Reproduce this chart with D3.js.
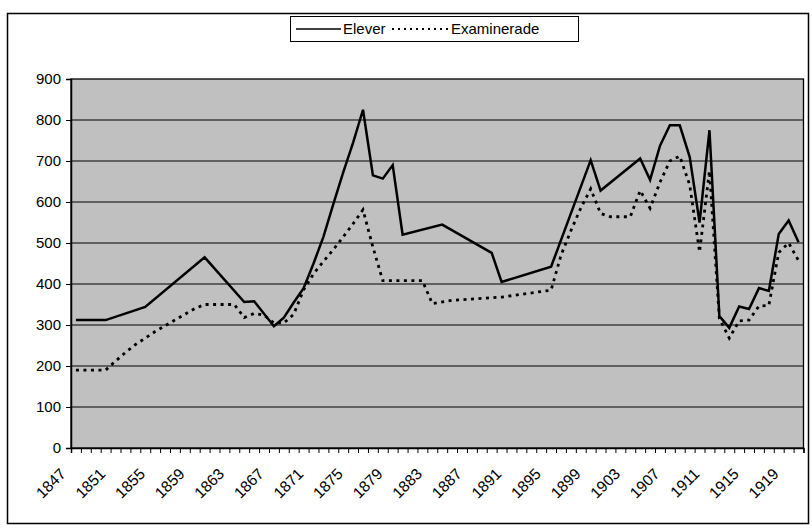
<!DOCTYPE html>
<html><head><meta charset="utf-8">
<script src="https://cdn.jsdelivr.net/npm/d3@7"></script>
<style>
body{margin:0;background:#fff}
svg{display:block}
text{font-family:"Liberation Sans",Arial,sans-serif;fill:#000}
</style>
</head><body>
<svg id="c" width="812" height="531"></svg>
<script>
// ---- data ----
const seriesNames = ["Elever", "Examinerade"];
const yTicks = [0, 100, 200, 300, 400, 500, 600, 700, 800, 900];
const xLabelYears = [1847, 1851, 1855, 1859, 1863, 1867, 1871, 1875, 1879, 1883, 1887, 1891, 1895, 1899, 1903, 1907, 1911, 1915, 1919];
const firstYear = 1847, lastYear = 1920;

const elYears = [1847,1850,1854,1860,1864,1865,1867,1868,1869,1870,1871,1872,1873,1874,1875,1876,1877,1878,1879,1880,1884,1889,1890,1895,1899,1900,1904,1905,1906,1907,1908,1909,1910,1911,1912,1913,1914,1915,1916,1917,1918,1919,1920];
const elValues = [312,312,344,465,356,358,297,318,355,390,450,515,595,672,745,825,665,657,690,520,545,476,405,442,702,628,706,654,737,787,787,710,550,775,322,293,345,339,390,383,522,555,502];

const exYears = [1847,1850,1851,1852,1853,1854,1855,1856,1857,1858,1859,1860,1863,1864,1865,1866,1867,1868,1869,1870,1871,1872,1873,1874,1875,1876,1877,1878,1882,1883,1885,1890,1895,1896,1897,1898,1899,1900,1901,1903,1904,1905,1906,1907,1908,1909,1910,1911,1912,1913,1914,1915,1916,1917,1918,1919,1920];
const exValues = [190,190,212,233,252,268,284,298,312,326,340,350,350,318,328,324,305,305,326,386,425,455,484,515,547,581,490,408,408,352,360,368,385,470,530,585,632,572,564,564,628,585,648,700,712,642,478,676,316,268,310,312,346,348,477,500,457];

// ---- layout ----
const svg = d3.select("#c");
const L = 71, R = 803.5, T = 79, B = 448;
const x = d3.scaleLinear().domain([firstYear - 0.5, lastYear + 0.5]).range([L, R]);
const y = d3.scaleLinear().domain([0, 900]).range([B, T]);

// outer border
svg.append("rect").attr("x", 7.5).attr("y", 13.5).attr("width", 801).attr("height", 510)
  .attr("fill", "#fff").attr("stroke", "#000").attr("stroke-width", 1.5);

// plot background
svg.append("rect").attr("x", L).attr("y", T).attr("width", R - L).attr("height", B - T)
  .attr("fill", "#c0c0c0");

// gridlines
svg.append("g").selectAll("line").data(yTicks.filter(d => d > 0 && d < 900)).join("line")
  .attr("x1", L).attr("x2", R).attr("y1", d => y(d)).attr("y2", d => y(d))
  .attr("stroke", "#000").attr("stroke-width", 1);

// plot border
svg.append("rect").attr("x", L).attr("y", T).attr("width", R - L).attr("height", B - T)
  .attr("fill", "none").attr("stroke", "#000").attr("stroke-width", 1.3);

// y axis
const yAxis = svg.append("g").attr("transform", `translate(${L},0)`)
  .call(d3.axisLeft(y).tickValues(yTicks).tickSize(5).tickPadding(5));
yAxis.select(".domain").attr("stroke", "#000").attr("stroke-width", 1.5);
yAxis.selectAll("text").style("font-size", "15px");

// x axis (tick marks at category boundaries)
const bounds = d3.range(firstYear - 0.5, lastYear + 1, 1);
const xAxis = svg.append("g").attr("transform", `translate(0,${B})`)
  .call(d3.axisBottom(x).tickValues(bounds).tickSize(5).tickFormat(""));
xAxis.select(".domain").attr("stroke", "#000").attr("stroke-width", 1.5);

svg.append("g").selectAll("text").data(xLabelYears).join("text")
  .attr("transform", d => `translate(${x(d) - 13},${B + 23}) rotate(-45)`)
  .attr("text-anchor", "end").attr("dy", "0.35em")
  .style("font-size", "15.5px").text(d => d);

// lines
const line = d3.line().x(d => x(d[0])).y(d => y(d[1]));
const elPts = elYears.map((yr, i) => [yr, elValues[i]]);
const exPts = exYears.map((yr, i) => [yr, exValues[i]]);

svg.append("path").datum(exPts).attr("d", line).attr("fill", "none")
  .attr("stroke", "#000").attr("stroke-width", 2.8).attr("stroke-dasharray", "3,4.5");
svg.append("path").datum(elPts).attr("d", line).attr("fill", "none")
  .attr("stroke", "#000").attr("stroke-width", 2.5).attr("stroke-linejoin", "miter");

// legend
const lg = svg.append("g");
lg.append("rect").attr("x", 290.5).attr("y", 16.5).attr("width", 288).attr("height", 25)
  .attr("fill", "#fff").attr("stroke", "#000").attr("stroke-width", 1);
lg.append("line").attr("x1", 296).attr("x2", 341).attr("y1", 29).attr("y2", 29)
  .attr("stroke", "#000").attr("stroke-width", 1.5);
lg.append("text").attr("x", 343).attr("y", 29).attr("dy", "0.35em").style("font-size", "15px").text(seriesNames[0]);
lg.append("line").attr("x1", 392).attr("x2", 449).attr("y1", 29).attr("y2", 29)
  .attr("stroke", "#000").attr("stroke-width", 1.8).attr("stroke-dasharray", "2,4");
lg.append("text").attr("x", 451).attr("y", 29).attr("dy", "0.35em").style("font-size", "15px").text(seriesNames[1]);
</script>
</body></html>
